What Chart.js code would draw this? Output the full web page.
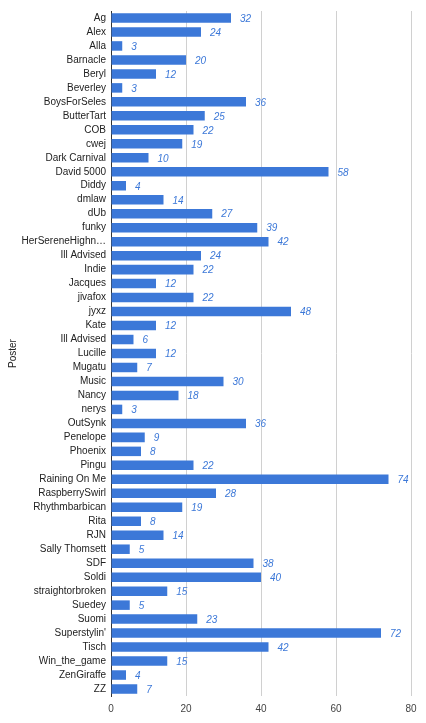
<!DOCTYPE html>
<html>
<head>
<meta charset="utf-8">
<script src="https://cdn.jsdelivr.net/npm/chart.js@4"></script>
<style>
  html, body { margin: 0; padding: 0; background: #fff; }
  #wrap { width: 426px; height: 723px; position: relative; }
</style>
</head>
<body>
<div id="wrap"><canvas id="chart"></canvas></div>
<script>
const posters = [
  "Ag", "Alex", "Alla", "Barnacle", "Beryl", "Beverley", "BoysForSeles", "ButterTart",
  "COB", "cwej", "Dark Carnival", "David 5000", "Diddy", "dmlaw", "dUb", "funky",
  "HerSereneHighn\u2026", "Ill Advised", "Indie", "Jacques", "jivafox", "jyxz", "Kate",
  "Ill Advised", "Lucille", "Mugatu", "Music", "Nancy", "nerys", "OutSynk", "Penelope",
  "Phoenix", "Pingu", "Raining On Me", "RaspberrySwirl", "Rhythmbarbican", "Rita", "RJN",
  "Sally Thomsett", "SDF", "Soldi", "straightorbroken", "Suedey", "Suomi", "Superstylin'",
  "Tisch", "Win_the_game", "ZenGiraffe", "ZZ"
];
const counts = [
  32, 24, 3, 20, 12, 3, 36, 25,
  22, 19, 10, 58, 4, 14, 27, 39,
  42, 24, 22, 12, 22, 48, 12,
  6, 12, 7, 30, 18, 3, 36, 9,
  8, 22, 74, 28, 19, 8, 14,
  5, 38, 40, 15, 5, 23, 72,
  42, 15, 4, 7
];
const xTicks = [0, 20, 40, 60, 80];

const FONT = "Arial, 'Liberation Sans', sans-serif";

// value labels drawn right of each bar
const valueLabels = {
  id: "valueLabels",
  afterDatasetsDraw(chart) {
    const ctx = chart.ctx;
    const meta = chart.getDatasetMeta(0);
    ctx.save();
    ctx.font = "italic 10px " + FONT;
    ctx.fillStyle = "#3c78d8";
    ctx.textAlign = "left";
    ctx.textBaseline = "middle";
    meta.data.forEach((bar, i) => {
      ctx.fillText(String(counts[i]), bar.x + 9, bar.y + 1);
    });
    ctx.restore();
  }
};

new Chart(document.getElementById("chart"), {
  type: "bar",
  data: {
    labels: posters,
    datasets: [{
      data: counts,
      backgroundColor: "#3c78d8",
      borderWidth: 0,
      categoryPercentage: 1,
      barPercentage: 0.68
    }]
  },
  plugins: [valueLabels],
  options: {
    indexAxis: "y",
    responsive: true,
    maintainAspectRatio: false,
    animation: false,
    layout: { padding: { top: 10, right: 15, left: 0, bottom: 0 } },
    plugins: {
      legend: { display: false },
      tooltip: { enabled: false }
    },
    scales: {
      x: {
        min: 0,
        max: 80,
        afterBuildTicks(scale) { scale.ticks = xTicks.map(v => ({ value: v })); },
        afterFit(scale) { scale.height = 27; },
        grid: {
          color: ctx => ctx.tick && ctx.tick.value === 0 ? "rgba(0,0,0,0)" : "#d0d0d0",
          drawTicks: false,
          lineWidth: 1
        },
        border: { display: false },
        ticks: { color: "#444", font: { family: FONT, size: 10 }, padding: 7 }
      },
      y: {
        afterFit(scale) { scale.width = 111; },
        grid: { display: false, drawTicks: false },
        border: { display: true, color: "#333", width: 1 },
        ticks: { color: "#222", font: { family: FONT, size: 10 }, padding: 5, autoSkip: false },
        title: {
          display: true,
          text: "Poster",
          color: "#222",
          font: { family: FONT, size: 10 },
          padding: { top: 7, bottom: 0 }
        }
      }
    }
  }
});
</script>
</body>
</html>
